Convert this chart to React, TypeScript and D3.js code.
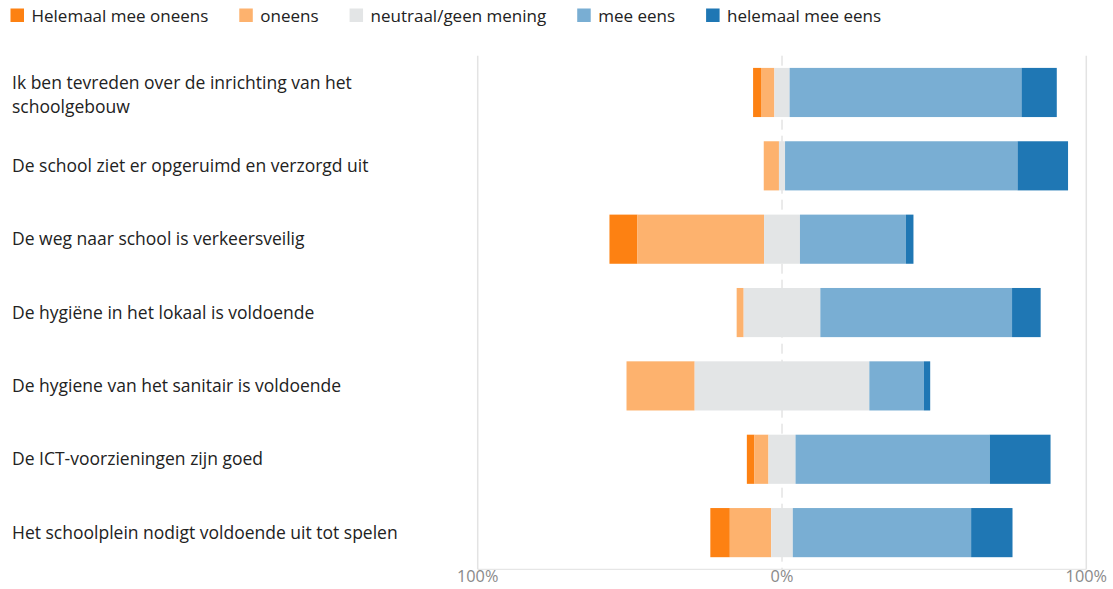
import React, { useEffect, useRef } from "react";
import * as d3 from "d3";

const categories = [
  "Ik ben tevreden over de inrichting van het\nschoolgebouw",
  "De school ziet er opgeruimd en verzorgd uit",
  "De weg naar school is verkeersveilig",
  "De hygiëne in het lokaal is voldoende",
  "De hygiene van het sanitair is voldoende",
  "De ICT-voorzieningen zijn goed",
  "Het schoolplein nodigt voldoende uit tot spelen",
];

const seriesNames = [
  "Helemaal mee oneens",
  "oneens",
  "neutraal/geen mening",
  "mee eens",
  "helemaal mee eens",
];

const helemaalOneens = [2.6, 0, 9.2, 0, 0, 2.5, 6.4];
const oneens = [4.4, 5.0, 41.6, 2.3, 22.4, 4.6, 13.6];
const neutraal = [5.0, 2.0, 11.8, 25.2, 57.4, 8.9, 7.1];
const meeEens = [76.2, 76.4, 34.8, 63.0, 17.9, 63.8, 58.6];
const helemaalEens = [11.6, 16.6, 2.5, 9.4, 2.1, 20.0, 13.6];

const tickValues = [-100, 0, 100];
const tickLabels = ["100%", "0%", "100%"];

const colors = ["#fd8112", "#fdb26e", "#e3e5e6", "#79aed3", "#1f77b4"];

const W = 1113;
const H = 589;
const FONT = "'Open Sans', 'Noto Sans', sans-serif";

export default function App() {
  const ref = useRef<SVGSVGElement>(null);

  useEffect(() => {
    const svg = d3.select(ref.current);
    svg.selectAll("*").remove();

    const x = d3.scaleLinear().domain([-100, 100]).range([477.7, 1086.3]);
    const y = d3
      .scaleBand<number>()
      .domain(d3.range(categories.length))
      .range([55.8, 569.3])
      .paddingInner(0.33)
      .paddingOuter(0.165);

    const top = 55.7;
    const bottom = 569.3;

    // gridlines
    const g = svg.append("g");
    g.selectAll("line.grid")
      .data([-100, 100])
      .join("line")
      .attr("x1", (d) => x(d))
      .attr("x2", (d) => x(d))
      .attr("y1", top)
      .attr("y2", bottom)
      .attr("stroke", "#e3e3e3")
      .attr("stroke-width", 1.5);

    g.append("line")
      .attr("x1", x(0))
      .attr("x2", x(0))
      .attr("y1", top)
      .attr("y2", bottom)
      .attr("stroke", "#d6d6d6")
      .attr("stroke-width", 1)
      .attr("stroke-dasharray", "10,6");

    g.append("line")
      .attr("x1", x(-100))
      .attr("x2", x(100))
      .attr("y1", bottom)
      .attr("y2", bottom)
      .attr("stroke", "#e0e0e0")
      .attr("stroke-width", 1);

    g.selectAll("text.tick")
      .data(tickValues)
      .join("text")
      .attr("x", (d) => x(d))
      .attr("y", 582)
      .attr("text-anchor", "middle")
      .attr("font-family", FONT)
      .attr("font-size", 16.3)
      .attr("fill", "#8a8a8a")
      .text((d, i) => tickLabels[i]);

    // bars
    const series = [helemaalOneens, oneens, neutraal, meeEens, helemaalEens];
    categories.forEach((_, i) => {
      const vals = series.map((s) => s[i]);
      let start = -(vals[0] + vals[1] + vals[2] / 2);
      const segs = vals.map((v, k) => {
        const s = { x0: start, x1: start + v, k };
        start += v;
        return s;
      });
      svg
        .append("g")
        .selectAll("rect")
        .data(segs.filter((s) => s.x1 > s.x0))
        .join("rect")
        .attr("x", (s) => x(s.x0))
        .attr("width", (s) => x(s.x1) - x(s.x0))
        .attr("y", y(i)!)
        .attr("height", y.bandwidth())
        .attr("fill", (s) => colors[s.k]);
    });

    // category labels
    categories.forEach((c, i) => {
      const lines = c.split("\n");
      const cy = y(i)! + y.bandwidth() / 2;
      const t = svg
        .append("text")
        .attr("font-family", FONT)
        .attr("font-size", 17.5)
        .attr("fill", "#222");
      lines.forEach((ln, j) => {
        const base = lines.length === 1 ? cy + 6 : cy - 3 + j * 23.3;
        t.append("tspan").attr("x", 12).attr("y", base).text(ln);
      });
    });

    // legend
    const leg = svg.append("g");
    let lx = 10.5;
    seriesNames.forEach((name, k) => {
      leg
        .append("rect")
        .attr("x", lx)
        .attr("y", 8.5)
        .attr("width", 13.5)
        .attr("height", 13.5)
        .attr("fill", colors[k]);
      const tx = leg
        .append("text")
        .attr("x", lx + 21)
        .attr("y", 21.5)
        .attr("font-family", FONT)
        .attr("font-size", 17)
        .attr("fill", "#222")
        .text(name);
      const w = (tx.node() as SVGTextElement).getComputedTextLength();
      lx += 21 + w + 31;
    });
  }, []);

  return (
    <svg
      ref={ref}
      width={W}
      height={H}
      style={{ position: "absolute", left: 0, top: 0, background: "#fff" }}
    />
  );
}
